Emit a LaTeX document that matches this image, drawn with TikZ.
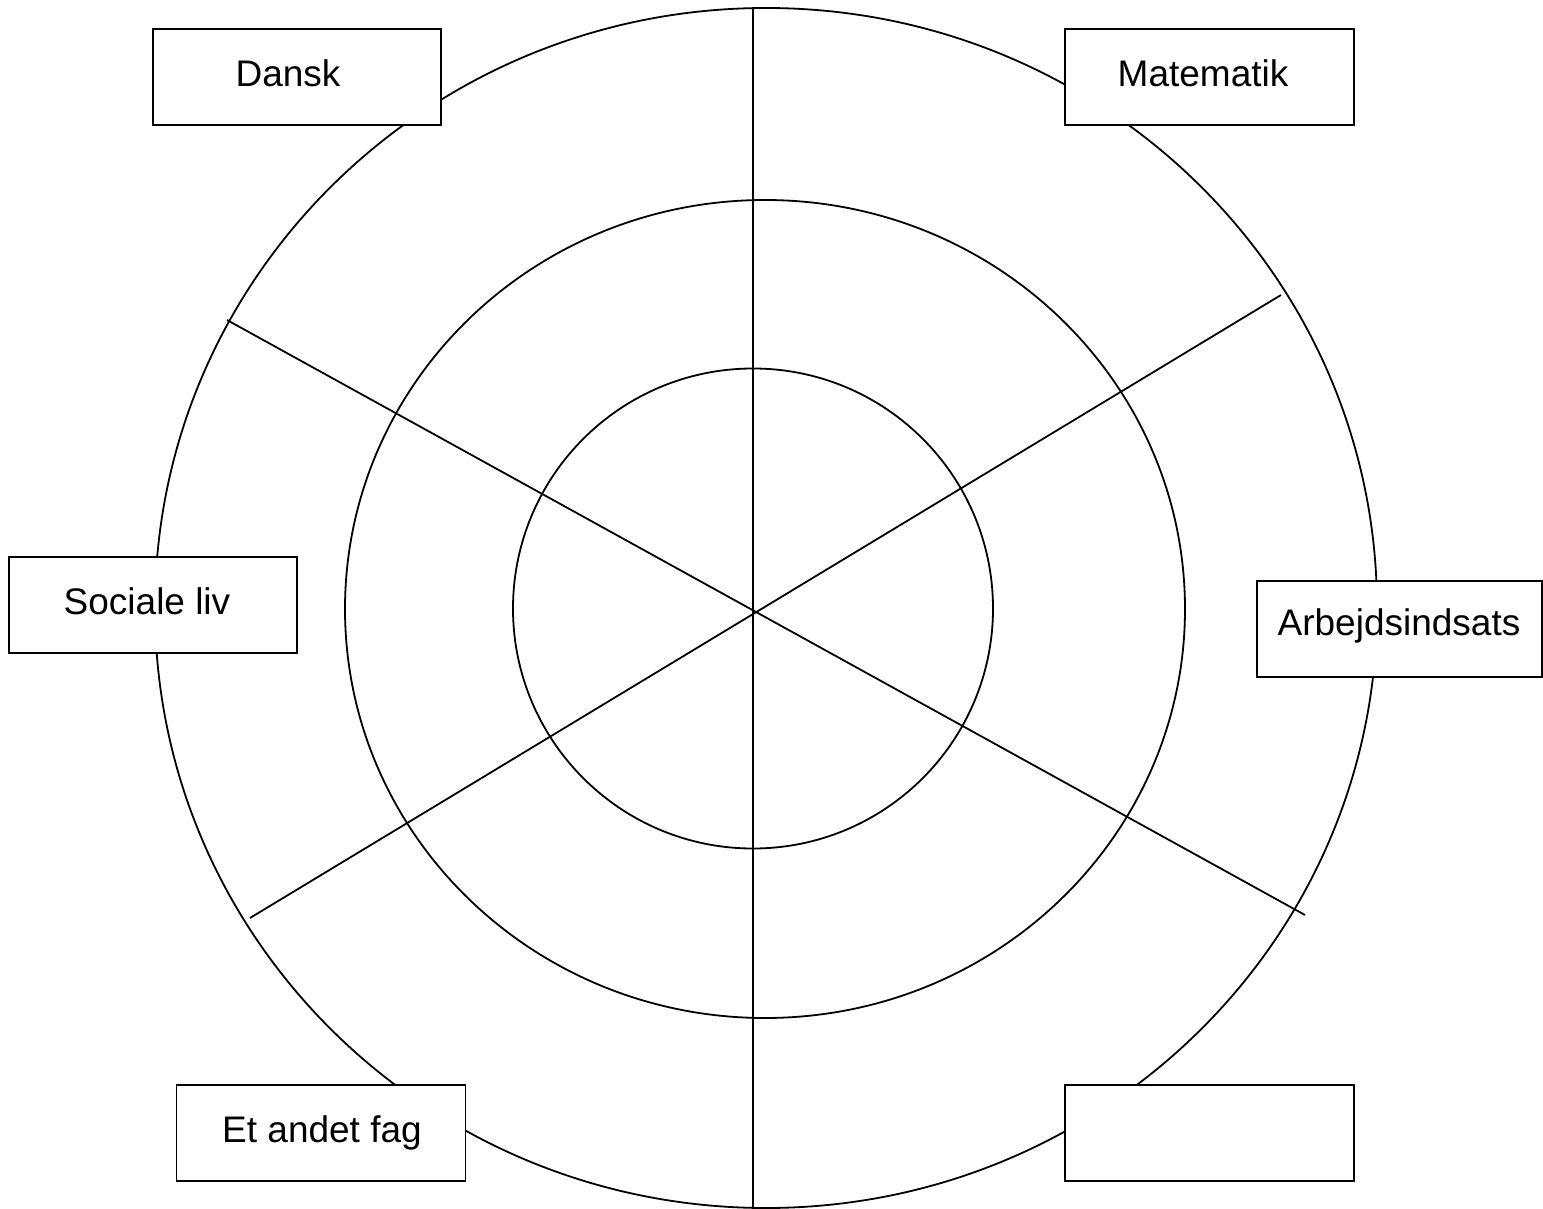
\documentclass[tikz,border=0pt]{standalone}
\usepackage{fontspec}
\setmainfont{Liberation Sans}
\begin{document}
\begin{tikzpicture}[x=0.5pt,y=-0.5pt,
  ln/.style={line width=0.9pt},
  box/.style={draw,line width=0.9pt,fill=white,inner sep=0pt,outer sep=0pt,minimum height=48pt},
  lbl/.style={anchor=base,inner sep=0pt,font=\fontsize{18.5pt}{22pt}\selectfont}]
\useasboundingbox (0,0) rectangle (1543,1209);
% rings
\draw[ln] (766,608) ellipse [x radius=611, y radius=600];
\draw[ln] (765,609) ellipse [x radius=420, y radius=409];
\draw[ln] (753,608.5) circle [radius=240];
% spokes
\coordinate (vt) at (753,8);
\coordinate (vb) at (753,1209);
\coordinate (a1) at (227,320);
\coordinate (a2) at (1305,915);
\coordinate (b1) at (250,918);
\coordinate (b2) at (1281,295);
\draw[ln] (vt) -- (vb);
\draw[ln] (a1) -- (a2);
\draw[ln] (b1) -- (b2);
% boxes
\node[box,minimum width=144pt] (dansk) at (297,77) {};
\node[box,minimum width=144.5pt] (mat) at (1209.5,77) {};
\node[box,minimum width=144pt] (soc) at (153,605) {};
\node[box,minimum width=142.5pt] (arb) at (1399.5,629) {};
\node[box,minimum width=144.5pt] (fag) at (321,1133) {};
\node[box,minimum width=144.5pt] (tom) at (1209.5,1133) {};
% labels
\node[lbl] (tdansk) at (288,87) {Dansk};
\node[lbl] (tmat) at (1203,87) {Matematik};
\node[lbl] (tsoc) at (147,614) {Sociale liv};
\node[lbl] (tarb) at (1399,635) {Arbejdsindsats};
\node[lbl] (tfag) at (322,1142) {Et andet fag};
\end{tikzpicture}
\end{document}
